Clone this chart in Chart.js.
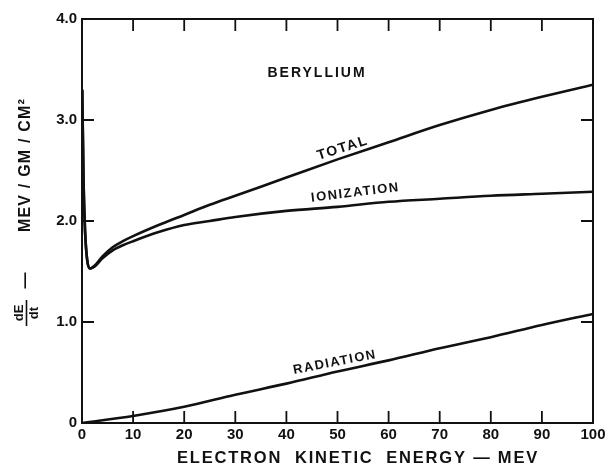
<!DOCTYPE html>
<html>
<head>
<meta charset="utf-8">
<script src="https://cdn.jsdelivr.net/npm/chart.js@4"></script>
<style>
  html, body { margin: 0; padding: 0; background: #fff; }
  #wrap { width: 614px; height: 470px; }
</style>
</head>
<body>
<div id="wrap"><canvas id="myChart" width="614" height="470"></canvas></div>
<script>
// values (MeV, MeV/gm/cm2)
const energy = [0.05, 0.3, 0.6, 1, 1.5, 2.5, 4, 6, 8, 10, 15, 20, 25, 30, 40, 50, 60, 70, 80, 90, 100];
const totalLoss = [3.3, 2.4, 1.9, 1.62, 1.53, 1.56, 1.65, 1.74, 1.8, 1.85, 1.96, 2.06, 2.16, 2.25, 2.43, 2.61, 2.78, 2.95, 3.10, 3.23, 3.35];
const ionizationLoss = [3.3, 2.4, 1.9, 1.62, 1.53, 1.55, 1.63, 1.71, 1.76, 1.80, 1.89, 1.96, 2.0, 2.04, 2.1, 2.14, 2.19, 2.22, 2.25, 2.27, 2.29];
const radEnergy = [0, 10, 20, 30, 40, 50, 60, 70, 80, 90, 100];
const radiationLoss = [0, 0.07, 0.16, 0.28, 0.39, 0.51, 0.62, 0.74, 0.85, 0.97, 1.08];
const xTicks = [0, 10, 20, 30, 40, 50, 60, 70, 80, 90, 100];
const yTicks = [0, 1, 2, 3, 4];

// curve labels, placed in data coordinates
const curveLabels = [
    { text: "BERYLLIUM", x: 46, y: 3.46, angle: 0, size: 14, spacing: 2 },
    { text: "TOTAL", x: 51, y: 2.72, angle: -18, size: 14, spacing: 1.5 },
    { text: "IONIZATION", x: 53.5, y: 2.28, angle: -7, size: 13, spacing: 1.5 },
    { text: "RADIATION", x: 49.5, y: 0.60, angle: -11, size: 13, spacing: 1.5 }
];

const FONT = "'Liberation Sans', Arial, sans-serif";
const INK = "#111";

function toPoints(xs, ys) {
    return xs.map((x, i) => ({ x: x, y: ys[i] }));
}

function line(data) {
    return {
        data: data,
        showLine: true,
        borderColor: INK,
        borderWidth: 2.6,
        pointRadius: 0,
        fill: false,
        cubicInterpolationMode: "monotone"
    };
}

const framePlugin = {
    id: "frame",
    afterDraw(chart) {
        const ctx = chart.ctx;
        const a = chart.chartArea;
        const xs = chart.scales.x, ys = chart.scales.y;
        ctx.save();
        ctx.strokeStyle = INK;
        ctx.lineWidth = 2;
        ctx.strokeRect(a.left, a.top, a.right - a.left, a.bottom - a.top);

        // inward ticks on all four sides
        ctx.lineWidth = 1.8;
        const len = 12;
        xTicks.slice(1, -1).forEach(v => {
            const px = xs.getPixelForValue(v);
            ctx.beginPath();
            ctx.moveTo(px, a.bottom); ctx.lineTo(px, a.bottom - len);
            ctx.moveTo(px, a.top); ctx.lineTo(px, a.top + len);
            ctx.stroke();
        });
        yTicks.slice(1, -1).forEach(v => {
            const py = ys.getPixelForValue(v);
            ctx.beginPath();
            ctx.moveTo(a.left, py); ctx.lineTo(a.left + len, py);
            ctx.moveTo(a.right, py); ctx.lineTo(a.right - len, py);
            ctx.stroke();
        });

        // curve names
        ctx.fillStyle = INK;
        ctx.textAlign = "center";
        ctx.textBaseline = "middle";
        curveLabels.forEach(l => {
            ctx.save();
            ctx.translate(xs.getPixelForValue(l.x), ys.getPixelForValue(l.y));
            ctx.rotate(l.angle * Math.PI / 180);
            ctx.font = "bold " + l.size + "px " + FONT;
            ctx.letterSpacing = l.spacing + "px";
            ctx.fillText(l.text, 0, 0);
            ctx.restore();
        });

        // x axis title
        ctx.font = "bold 16.5px " + FONT;
        ctx.letterSpacing = "1.8px";
        ctx.fillText("ELECTRON  KINETIC  ENERGY \u2014 MEV", 358, 458);

        // y axis title, vertical
        ctx.save();
        ctx.translate(26, 0);
        ctx.rotate(-Math.PI / 2);
        ctx.font = "bold 16px " + FONT;
        ctx.letterSpacing = "1.2px";
        ctx.fillText("MEV / GM / CM\u00b2", -165, 0);
        ctx.fillText("\u2014", -280, 0);
        ctx.font = "bold 13px " + FONT;
        ctx.letterSpacing = "0px";
        ctx.fillText("dE", -313, -7);
        ctx.fillText("dt", -313, 8);
        ctx.lineWidth = 1.6;
        ctx.beginPath();
        ctx.moveTo(-326, 0.5); ctx.lineTo(-300, 0.5);
        ctx.stroke();
        ctx.restore();

        ctx.restore();
    }
};

new Chart("myChart", {
    type: "scatter",
    data: {
        datasets: [
            line(toPoints(energy, totalLoss)),
            line(toPoints(energy, ionizationLoss)),
            line(toPoints(radEnergy, radiationLoss))
        ]
    },
    options: {
        responsive: false,
        animation: false,
        layout: { padding: { top: 19, right: 21, left: 0, bottom: 0 } },
        plugins: {
            legend: { display: false },
            tooltip: { enabled: false }
        },
        scales: {
            x: {
                type: "linear",
                min: 0,
                max: 100,
                afterBuildTicks: s => { s.ticks = xTicks.map(v => ({ value: v })); },
                afterFit: s => { s.height = 47; },
                grid: { display: false, drawTicks: false },
                border: { display: false },
                ticks: {
                    padding: 3,
                    color: INK,
                    font: { family: FONT, size: 15, weight: "bold" },
                    maxRotation: 0
                }
            },
            y: {
                min: 0,
                max: 4,
                afterBuildTicks: s => { s.ticks = yTicks.map(v => ({ value: v })); },
                afterFit: s => { s.width = 82; },
                grid: { display: false, drawTicks: false },
                border: { display: false },
                ticks: {
                    padding: 5,
                    color: INK,
                    font: { family: FONT, size: 15, weight: "bold" },
                    callback: v => v === 0 ? "0" : v.toFixed(1)
                }
            }
        }
    },
    plugins: [framePlugin]
});
</script>
</body>
</html>
